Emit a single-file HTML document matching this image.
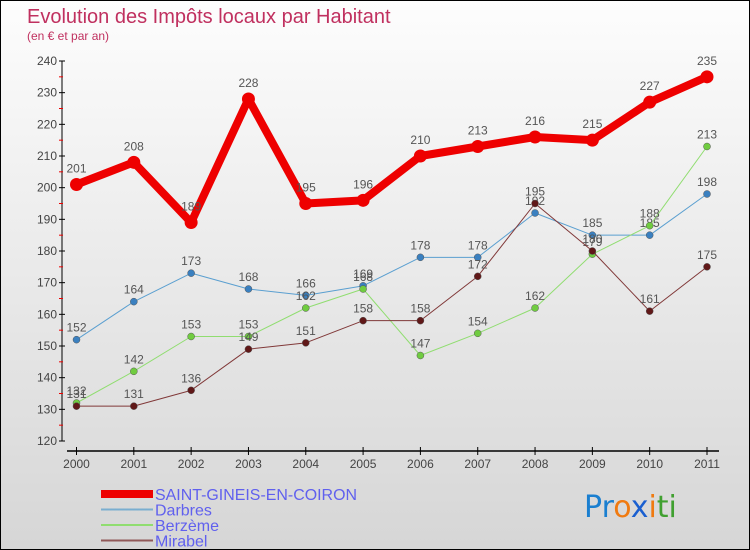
<!DOCTYPE html>
<html><head><meta charset="utf-8"><style>
body{margin:0}
#c{width:750px;height:550px;position:relative;box-sizing:border-box;border:1px solid #000;background:linear-gradient(#fdfdfd,#d6d6d6);font-family:"Liberation Sans",sans-serif;overflow:hidden}
</style></head><body>
<div id="c">
<svg id="s" width="750" height="550" style="position:absolute;left:0;top:0">
<text x="26" y="22" font-size="20" fill="#c0305f">Evolution des Impôts locaux par Habitant</text>
<text x="26" y="39" font-size="12" fill="#c0305f">(en € et par an)</text>
<g id="axes"></g><g id="series"></g><g id="legend"></g>
<text x="583" y="516" font-size="30" font-family="DejaVu Sans,sans-serif"><tspan fill="#1a7fd0">Pr</tspan><tspan fill="#f07a10">o</tspan><tspan fill="#1a5fd0">x</tspan><tspan fill="#f07a10">i</tspan><tspan fill="#40a030">ti</tspan></text>
</svg>
</div>
<script>
const years=[2000,2001,2002,2003,2004,2005,2006,2007,2008,2009,2010,2011];
const yTicks=[120,130,140,150,160,170,180,190,200,210,220,230,240];
const seriesNames=["SAINT-GINEIS-EN-COIRON","Darbres","Berzème","Mirabel"];
const saint=[201,208,189,228,195,196,210,213,216,215,227,235];
const darbres=[152,164,173,168,166,169,178,178,192,185,185,198];
const berzeme=[132,142,153,153,162,168,147,154,162,179,188,213];
const mirabel=[131,131,136,149,151,158,158,172,195,180,161,175];
const NS="http://www.w3.org/2000/svg";
const X=i=>75.5+i*(706-75.5)/11;
const Y=v=>440-(v-120)*380/120;
function mk(t,a,p){const e=document.createElementNS(NS,t);for(const k in a)e.setAttribute(k,a[k]);p.appendChild(e);return e;}
const ax=document.getElementById('axes');
let l=mk('line',{x1:61,y1:Y(240),x2:61,y2:Y(120),stroke:'#000'},ax);


l=mk('line',{x1:66,y1:450,x2:718,y2:450,stroke:'#000','stroke-width':1.5},ax);


yTicks.forEach((v,i)=>{
 mk('line',{x1:58,y1:Y(v),x2:64,y2:Y(v),stroke:'#000'},ax);
 if(i<yTicks.length-1) mk('line',{x1:58,y1:Y(v+5),x2:62,y2:Y(v+5),stroke:'#e00'},ax);
 const t=mk('text',{x:56,y:Y(v)+4,'font-size':12,fill:'#444','text-anchor':'end'},ax);t.textContent=v;
 
 
});
years.forEach((y,i)=>{
 mk('line',{x1:X(i),y1:446,x2:X(i),y2:454,stroke:'#000'},ax);
 const t=mk('text',{x:X(i),y:467,'font-size':12,fill:'#444','text-anchor':'middle'},ax);t.textContent=y;
 
 
});
const sg=document.getElementById('series');
const defs=[[darbres,'#5a9fd0','#3a80c0',1,3.5],[berzeme,'#90dd70','#70cc40',1,3.5],[mirabel,'#803838','#601818',1,3.5],[saint,'#ee0000','#ee0000',8,6.5]];
defs.forEach(([d,c,pc,w,r],k)=>{
 const g=mk('g',{},sg);
 
 
 const pl=mk('polyline',{points:d.map((v,i)=>X(i)+','+Y(v)).join(' '),fill:'none',stroke:c,'stroke-width':w,'stroke-linejoin':'round'},g);
 
 
 d.forEach((v,i)=>{
  const p=mk('circle',{cx:X(i),cy:Y(v),r:r,fill:pc,stroke:w>1?'none':'#555','stroke-width':0.5},g);
  
  
  const t=mk('text',{x:X(i),y:Y(v)-(w>1?12:8),'font-size':12,fill:'#555','text-anchor':'middle'},g);t.textContent=v;
  
  
 });
});
const lg=document.getElementById('legend');
const lc=['#ee0000','#7aaed0','#90dd70','#905858'];
seriesNames.forEach((n,i)=>{
 const y=493+i*15.5;
 const g=mk('g',{},lg);
 
 
 mk('rect',{x:100,y:i==0?y-4:y-1,width:52,height:i==0?8:2,fill:lc[i]},g);
 const t=mk('text',{x:154,y:y+6,'font-size':16,fill:'#6060ee','textLength':i==0?202:0}.textLength?{x:154,y:y+6,'font-size':16,fill:'#6060ee',textLength:202,lengthAdjust:'spacingAndGlyphs'}:{x:154,y:y+6,'font-size':16,fill:'#6060ee'},g);t.textContent=n;
});
</script>
</body></html>
